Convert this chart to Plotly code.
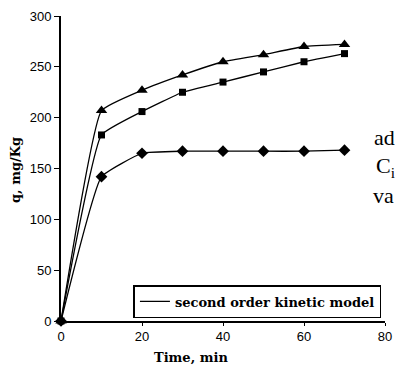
import plotly.graph_objects as go

time_min = [0, 10, 20, 30, 40, 50, 60, 70]
q_triangle = [0, 207, 227, 242, 255, 262, 270, 272]
q_square = [0, 183, 206, 225, 235, 245, 255, 263]
q_diamond = [0, 142, 165, 167, 167, 167, 167, 168]
legend_label = "second order kinetic model"

fig = go.Figure()
line = dict(color="black", width=1.3, shape="spline", smoothing=0.35)
for y, sym, size in [(q_triangle, "triangle-up", 10), (q_square, "square", 7), (q_diamond, "diamond", 9)]:
    fig.add_trace(go.Scatter(x=time_min, y=y, mode="lines+markers", line=line,
                             marker=dict(symbol=sym, size=size, color="black"),
                             showlegend=False, cliponaxis=False))
fig.add_trace(go.Scatter(x=[None], y=[None], mode="lines", name=legend_label,
                         line=dict(color="black", width=1.3)))

fig.update_layout(
    width=401, height=371,
    margin=dict(l=61, r=9, t=16, b=50),
    paper_bgcolor="white", plot_bgcolor="white",
    font=dict(family="Liberation Sans", size=13, color="black"),
    xaxis=dict(range=[0, 80], tickvals=[0, 20, 40, 60, 80], showgrid=False, zeroline=False,
               showline=True, linecolor="black", linewidth=1.5, ticks="outside", ticklen=3,
               tickcolor="black", tickfont=dict(size=13)),
    yaxis=dict(range=[0, 300], tickvals=[0, 50, 100, 150, 200, 250, 300], showgrid=False, zeroline=False,
               showline=True, linecolor="black", linewidth=2, ticks="outside", ticklen=5,
               tickcolor="black", tickfont=dict(size=13)),
    legend=dict(x=(135 - 61) / 331, y=(321 - 285) / 305, xanchor="left", yanchor="top", bgcolor="white",
                bordercolor="black", borderwidth=1.5,
                font=dict(family="DejaVu Serif", size=13, color="black", weight="bold"),
                tracegroupgap=0, itemwidth=30),
    showlegend=True,
)

ann_font = dict(family="Liberation Serif", color="black")
fig.add_annotation(text="<b>Time, min</b>", xref="paper", yref="paper", x=(194 - 61) / 331, y=-(357 - 321) / 305,
                   xanchor="center", yanchor="middle", showarrow=False,
                   font=dict(size=13, family="DejaVu Serif", color="black"))
fig.add_annotation(text="<b>q, mg/Kg</b>", xref="paper", yref="paper", x=-(61 - 15) / 331, y=(321 - 170) / 305,
                   xanchor="center", yanchor="middle", textangle=-90, showarrow=False,
                   font=dict(size=13, family="DejaVu Serif", color="black"))
fig.add_annotation(text="ad", xref="paper", yref="paper", x=(379 - 61) / 331, y=(321 - 137) / 305,
                   xanchor="left", yanchor="middle", showarrow=False, font=dict(size=22, **ann_font))
fig.add_annotation(text="C<sub>i</sub>", xref="paper", yref="paper", x=(381 - 61) / 331, y=(321 - 167) / 305,
                   xanchor="left", yanchor="middle", showarrow=False, font=dict(size=22, **ann_font))
fig.add_annotation(text="va", xref="paper", yref="paper", x=(378 - 61) / 331, y=(321 - 195) / 305,
                   xanchor="left", yanchor="middle", showarrow=False, font=dict(size=22, **ann_font))

fig.write_html("out.html")
